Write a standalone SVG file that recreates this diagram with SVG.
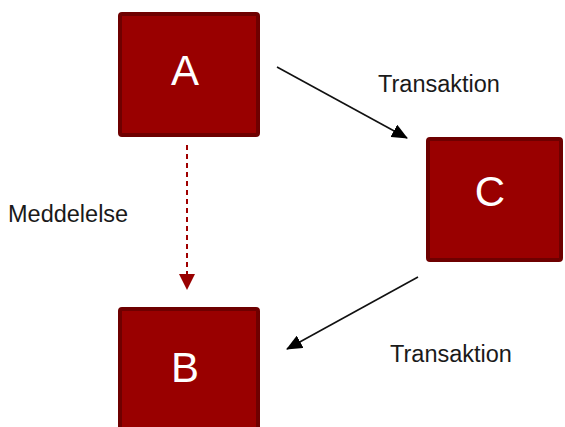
<svg xmlns="http://www.w3.org/2000/svg" width="565" height="427" viewBox="0 0 565 427">
<style>
.box{fill:#990000;stroke:#6e0000;stroke-width:4}
.lbl{font-family:"Liberation Sans",Arial,sans-serif;font-size:42px;fill:#ffffff;text-anchor:middle}
.txt{font-family:"Liberation Sans",Arial,sans-serif;font-size:23.5px;fill:#1a1a1a}
.arr{stroke:#111;stroke-width:1.6;fill:none}
.msg{stroke:#a00000;stroke-width:2;fill:none;stroke-dasharray:5 4}
</style>
<defs>
<marker id="ah" markerUnits="userSpaceOnUse" markerWidth="16" markerHeight="14" refX="15" refY="7" orient="auto" viewBox="0 0 16 14">
<path d="M0,0 L16,7 L0,14 Z" fill="#000"/>
</marker>
<marker id="ahr" markerUnits="userSpaceOnUse" markerWidth="16" markerHeight="16" refX="15" refY="8" orient="auto" viewBox="0 0 16 16">
<path d="M0,0 L16,8 L0,16 Z" fill="#990000"/>
</marker>
</defs>
<g id="connectors">
<line class="msg" x1="187" y1="145" x2="187" y2="289" marker-end="url(#ahr)"/>
<line class="arr" x1="277" y1="67" x2="407" y2="138" marker-end="url(#ah)"/>
<line class="arr" x1="418" y1="277" x2="287" y2="349" marker-end="url(#ah)"/>
</g>
<g id="nodeA">
<rect class="box" x="120" y="14" width="138" height="121" rx="2"/>
<text class="lbl" x="185" y="85">A</text>
</g>
<g id="nodeC">
<rect class="box" x="428" y="139" width="133" height="121" rx="2"/>
<text class="lbl" x="490" y="206">C</text>
</g>
<g id="nodeB">
<rect class="box" x="120" y="309" width="138" height="121" rx="2"/>
<text class="lbl" x="185" y="382">B</text>
</g>
<g id="labels">
<text class="txt" x="378" y="92">Transaktion</text>
<text class="txt" x="8" y="222">Meddelelse</text>
<text class="txt" x="390" y="362">Transaktion</text>
</g>
</svg>
